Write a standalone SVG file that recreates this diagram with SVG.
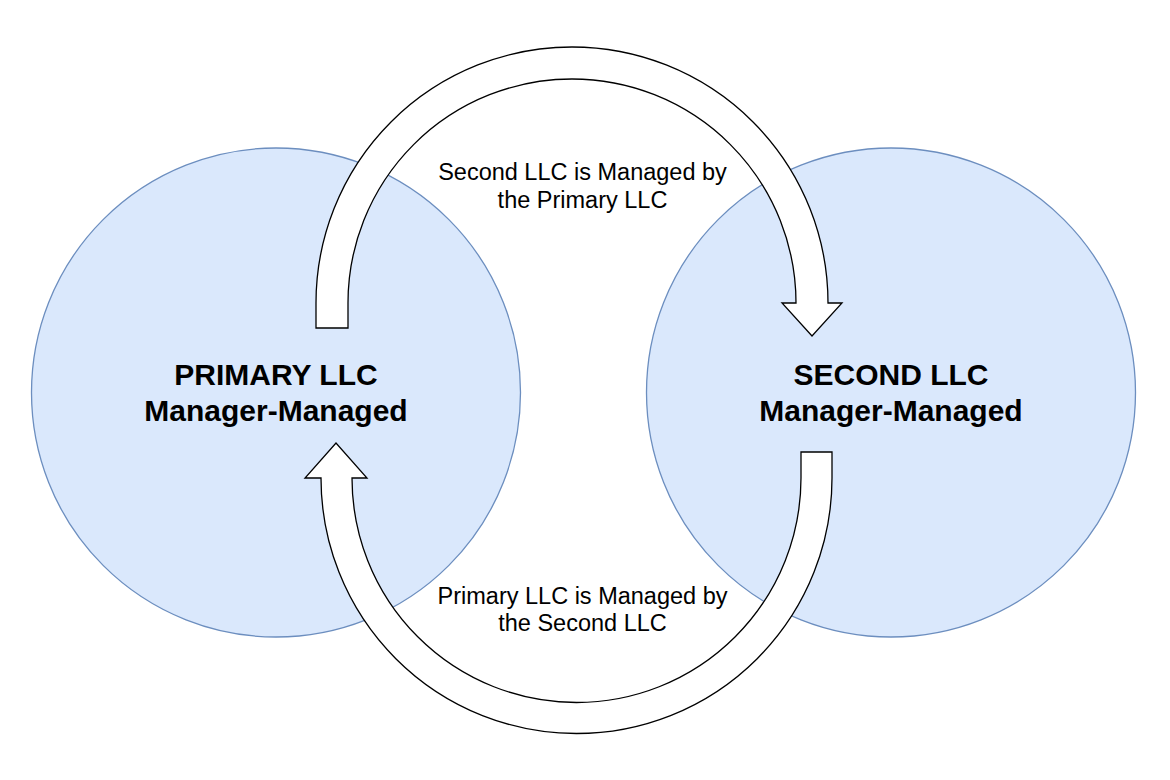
<svg xmlns="http://www.w3.org/2000/svg" width="1170" height="780" viewBox="0 0 1170 780">
<style>
.circ{fill:#dae8fc;stroke:#6c8ebf;stroke-width:1.3}
.arr{fill:#ffffff;stroke:#000000;stroke-width:1.3;stroke-linejoin:miter}
.title{font-family:"Liberation Sans",Arial,sans-serif;font-weight:bold;font-size:30px;fill:#000;text-anchor:middle}
.lbl{font-family:"Liberation Sans",Arial,sans-serif;font-size:23.5px;fill:#000;text-anchor:middle}
</style>
<rect width="1170" height="780" fill="#ffffff"/>
<g id="primary">
<circle class="circ" cx="276" cy="392.5" r="244.5"/>
<text class="title" x="276" y="385">PRIMARY LLC</text>
<text class="title" x="276" y="421">Manager-Managed</text>
</g>
<g id="second">
<circle class="circ" cx="891" cy="392.5" r="244.5"/>
<text class="title" x="891" y="385">SECOND LLC</text>
<text class="title" x="891" y="421">Manager-Managed</text>
</g>
<g id="connectors">
<g id="arrow-top">
<path class="arr" d="M 316 328 L 316 303 A 256 256 0 0 1 828 303 L 842 303 L 812 336 L 782 303 L 796 303 A 224 224 0 0 0 348 303 L 348 328 Z"/>
<text class="lbl" x="582.5" y="180">Second LLC is Managed by</text>
<text class="lbl" x="582.5" y="208">the Primary LLC</text>
</g>
<g id="arrow-bottom">
<path class="arr" d="M 832 452 L 832 478 A 255.5 255.5 0 0 1 321 478 L 305 478 L 336 443 L 367 478 L 352 478 A 224.5 224.5 0 0 0 801 478 L 801 452 Z"/>
<text class="lbl" x="582.5" y="604">Primary LLC is Managed by</text>
<text class="lbl" x="582.5" y="631">the Second LLC</text>
</g>
</g>
</svg>
